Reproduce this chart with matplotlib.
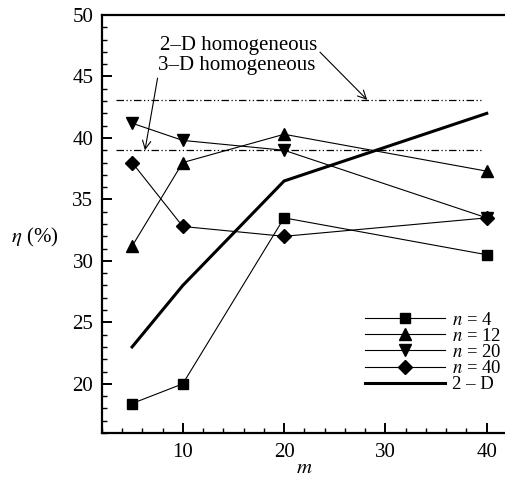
import numpy as np
import matplotlib
matplotlib.use("Agg")
import matplotlib.pyplot as plt
from matplotlib.ticker import MultipleLocator

plt.rcParams['font.family'] = ['Liberation Serif', 'DejaVu Serif']
plt.rcParams['mathtext.fontset'] = 'stix'

# values
m_vals = [5, 10, 20, 40]
eta_n4 = [18.4, 20.0, 33.5, 30.5]
eta_n12 = [31.2, 38.0, 40.3, 37.3]
eta_n20 = [41.2, 39.8, 39.0, 33.5]
eta_n40 = [38.0, 32.8, 32.0, 33.5]
eta_2d = [23.0, 28.0, 36.5, 42.0]

homog_2d = 43.1      # 2-D homogeneous level
homog_3d = 39.0      # 3-D homogeneous level
homog_span = [3.4, 39.5]

fig = plt.figure(figsize=(5.05, 4.8), dpi=100)
ax = fig.add_axes([0.2014, 0.0979, 0.8026, 0.8708])

ax.plot(m_vals, eta_n4, '-', color='black', lw=0.8, marker='s', ms=7, label='$n$ = 4')
ax.plot(m_vals, eta_n12, '-', color='black', lw=0.8, marker='^', ms=8, label='$n$ = 12')
ax.plot(m_vals, eta_n20, '-', color='black', lw=0.8, marker='v', ms=8, label='$n$ = 20')
ax.plot(m_vals, eta_n40, '-', color='black', lw=0.8, marker='D', ms=7, label='$n$ = 40')
ax.plot(m_vals, eta_2d, '-', color='black', lw=2.2, label='2 – D')

dashdotdot = (0, (6, 2, 1, 2, 1, 2))
ax.plot(homog_span, [homog_2d, homog_2d], color='black', lw=0.9, ls=dashdotdot)
ax.plot(homog_span, [homog_3d, homog_3d], color='black', lw=0.9, ls=dashdotdot)

ax.annotate('2–D homogeneous', xy=(28.2, homog_2d), xytext=(7.75, 47.15),
            fontsize=15, ha='left', va='baseline',
            arrowprops=dict(arrowstyle='->', color='black', lw=0.8,
                            shrinkA=0, shrinkB=0,
                            relpos=(1.0, 0.3)))
ax.annotate('3–D homogeneous', xy=(6.27, homog_3d), xytext=(7.56, 45.5),
            fontsize=15, ha='left', va='baseline',
            arrowprops=dict(arrowstyle='->', color='black', lw=0.8,
                            shrinkA=0, shrinkB=0,
                            relpos=(0.0, 0.0)))

ax.set_xlim(2, 42)
ax.set_ylim(16, 50)
ax.xaxis.set_major_locator(MultipleLocator(10))
ax.xaxis.set_minor_locator(MultipleLocator(2))
ax.yaxis.set_major_locator(MultipleLocator(5))
ax.yaxis.set_minor_locator(MultipleLocator(1))
ax.tick_params(which='both', direction='in', labelsize=15)
ax.tick_params(which='major', length=7, width=1.4, pad=7)
ax.tick_params(which='minor', length=3.5, width=1.0)
ax.tick_params(axis='y', pad=6)

for side in ['left', 'bottom', 'top']:
    ax.spines[side].set_linewidth(1.6)
ax.spines['right'].set_visible(False)

ax.set_xlabel('$m$', fontsize=15, labelpad=-2)
ax.set_ylabel(r'$\eta$ (%)', fontsize=15, rotation=0, labelpad=0)
ax.yaxis.set_label_coords(-0.165, 0.44)

ax.legend(loc='lower left', bbox_to_anchor=(0.63, 0.077), frameon=False,
          fontsize=13.5, handlelength=4.3, handletextpad=0.35,
          labelspacing=-0.05, borderaxespad=0)

fig.savefig('out.png', dpi=100)
